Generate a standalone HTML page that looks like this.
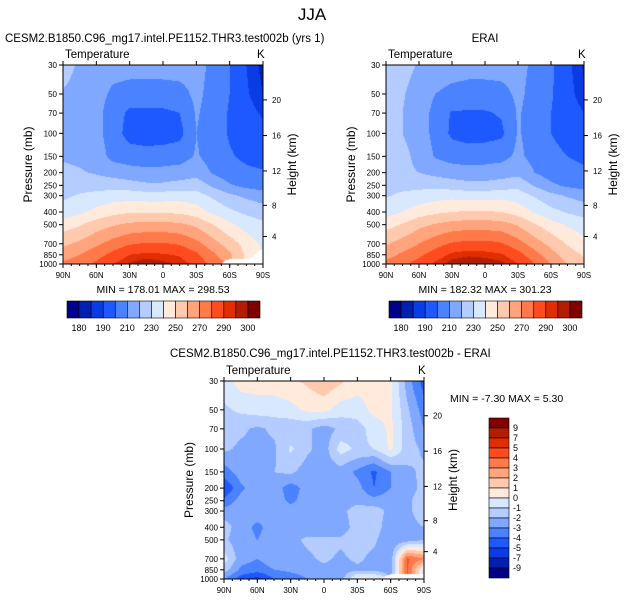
<!DOCTYPE html>
<html><head><meta charset="utf-8">
<style>
body{margin:0;background:#fff;width:625px;height:602px;overflow:hidden;position:relative;font-family:"Liberation Sans",Arial,sans-serif;}
canvas{position:absolute;}
svg{position:absolute;left:0;top:0;}
</style></head>
<body>
<canvas id="c1"></canvas>
<canvas id="c2"></canvas>
<canvas id="c3"></canvas>
<svg id="ov" width="625" height="602"></svg>
<script>
const levels=[30,50,70,100,150,200,250,300,400,500,700,850,1000];
const lats=[90,75,60,45,30,15,0,-15,-30,-45,-60,-75,-90];
const N=NaN;
const modelT=[
[225,218,215,214,214,214,214,214,213,208,200,190,183],
[219,216,214,208,206,206,206,207,212,207,200,191,185],
[218,216,213,205,198,198,198,200,211,206,199,193,189],
[218,217,213,205,196,195,195,197,210,205,199,195,192],
[219,218,215,207,205,204,205,206,211,206,201,198,196],
[222,221,219,216,214,213,213,214,216,209,204,202,201],
[225,226,226,226,224,222,222,224,226,218,211,207,205],
[228,231,233,235,236,235,235,236,234,228,222,218,215],
[234,238,243,247,249,249,249,248,245,238,232,228,225],
[245,249,255,259,262,263,263,262,258,250,242,236,232],
[258,262,268,274,279,281,281,279,273,264,255,246,238],
[265,270,276,283,290,292,291,289,282,272,262,248,N],
[272,276,282,290,296,299,297,294,287,276,N,N,N]];
const eraiT=[
[229,224,219,216,215,214,214,214,213,208,202,192,184],
[223,221,215,210,207,206,206,207,212,207,201,193,186],
[221,220,215,207,199,199,199,201,211,206,200,195,190],
[222,220,215,207,198,196,196,198,211,206,200,196,193],
[226,223,217,209,206,205,206,207,212,207,203,200,198],
[223,222,220,217,215,214,214,215,217,210,205,203,202],
[226,227,227,227,225,223,223,225,227,219,212,208,206],
[229,232,234,236,237,236,236,237,235,229,223,219,216],
[236,240,245,248,250,251,251,250,246,239,233,229,226],
[246,251,257,261,264,265,265,264,259,251,244,239,235],
[259,264,270,276,281,283,283,281,274,265,257,249,243],
[266,272,278,285,292,294,293,291,284,274,264,255,249],
[273,278,284,292,298,300,299,297,290,280,270,260,252]];
const diffT=[
[-0.5,0.5,0.5,0.5,0.8,1.2,1.8,1.2,0.5,0.5,0.3,-2.5,-4.5],
[-1.2,-0.8,-0.5,-0.5,-0.3,0.2,0.3,-0.5,-0.5,0.3,0.2,-1.8,-3.5],
[-1.5,-1.8,-2.2,-1.8,-1.8,-1.8,-2.5,-1.8,-1.5,-0.5,0.2,-1.5,-3],
[-1.8,-2.2,-2.2,-2.2,-0.8,-1.8,-2.5,-0.5,-1.2,-1,0.2,-1.5,-2.2],
[-3.5,-2.5,-2.5,-2.0,-1.8,-2.5,-2.6,-2.5,-3.2,-4.2,-3.0,-2.2,-1.8],
[-5,-3.2,-2.5,-2.5,-3.5,-2.6,-2.6,-2.6,-2.6,-4.0,-3.0,-2.3,-1.8],
[-3.8,-2.6,-2.3,-2.5,-3.2,-2.6,-2.6,-2.6,-2.3,-2.6,-2.3,-2.2,-1.5],
[-2.6,-2.3,-2.6,-2.6,-2.6,-2.6,-2.6,-2.3,-1.5,-1.5,-2.3,-2.2,-1.5],
[-1.5,-2.6,-3.2,-2.6,-2.5,-2.6,-2.6,-2.6,-1.5,-1.5,-2.6,-2.3,-2],
[-1.8,-2.6,-3.0,-2.6,-2.3,-1.8,-1.8,-1.8,-1.5,-1.8,-2.8,-2.6,-2],
[-0.5,-2.6,-3,-2.5,-2.6,-2.2,-1.8,-2.2,-1.8,-2.3,-2.6,4.2,3],
[-1.5,-3.2,-3.5,-3,-2.8,-2.6,-2.3,-2.6,-2.2,-2.3,-2.6,4.2,-0.5],
[-3,-4.5,-5.5,-4,-3.5,-3,-2.6,-2.6,0.5,0.5,N,N,N]];
const tempBounds=[180,185,190,200,210,220,230,240,250,260,270,280,290,295,300];
const tempLabels=["180","190","210","230","250","270","290","300"];
const diffBounds=[-9,-7,-5,-4,-3,-2,-1,0,1,2,3,4,5,7,9];
const diffLabels=["9","7","5","4","3","2","1","0","-1","-2","-3","-4","-5","-7","-9"];
const pTicks=[30,50,70,100,150,200,250,300,400,500,700,850,1000];
const zTicks=[4,8,12,16,20];
const zPress=[616,356,194,104,55.5];
const latTicks=["90N","60N","30N","0","30S","60S","90S"];
const colors=["#00008a","#0020b0","#0a3ce6","#1e58ff","#4a82ff","#80a8ff","#b4ccff","#d8e8ff","#ffeadc","#ffc9ae","#ffa47c","#ff7a4a","#ff4c1e","#e02e00","#b41e00","#800000"];
const NS="http://www.w3.org/2000/svg";
const ov=document.getElementById('ov');
function el(tag,a,txt){const e=document.createElementNS(NS,tag);for(const k in a)e.setAttribute(k,a[k]);if(txt!==undefined)e.textContent=txt;ov.appendChild(e);return e;}
function colorIdx(v,b){let i=0;while(i<b.length&&v>=b[i])i++;return i;}
function hex(c){return [parseInt(c.substr(1,2),16),parseInt(c.substr(3,2),16),parseInt(c.substr(5,2),16)];}
const rgb=colors.map(hex);
function interp(data,fx,p){
  const lp=Math.log(p);let j=0;
  while(j<levels.length-2&&p>levels[j+1])j++;
  const ty=(lp-Math.log(levels[j]))/(Math.log(levels[j+1])-Math.log(levels[j]));
  let i=Math.min(Math.floor(fx),lats.length-2);const tx=fx-i;
  const a=data[j][i],b=data[j][i+1],c=data[j+1][i],d=data[j+1][i+1];
  const w=[(1-tx)*(1-ty),tx*(1-ty),(1-tx)*ty,tx*ty];const v=[a,b,c,d];
  let s=0,ws=0;for(let k=0;k<4;k++){if(!isNaN(v[k])){s+=w[k]*v[k];ws+=w[k];}}
  if(ws<0.5)return NaN;return s/ws;
}
function panel(cid,name,x0,y0,W,H,data,bounds){
  const yOf=p=>y0+H*Math.log(p/30)/Math.log(1000/30);
  const cv=document.getElementById(cid);cv.width=W;cv.height=H;cv.style.left=x0+'px';cv.style.top=y0+'px';
  const ctx=cv.getContext('2d');const img=ctx.createImageData(W,H);
  for(let py=0;py<H;py++){const p=30*Math.exp((py+0.5)/H*Math.log(1000/30));
    for(let px=0;px<W;px++){const fx=(px+0.5)/W*(lats.length-1);const v=interp(data,fx,p);
      const o=(py*W+px)*4;let c=[255,255,255];if(!isNaN(v))c=rgb[colorIdx(v,bounds)];
      img.data[o]=c[0];img.data[o+1]=c[1];img.data[o+2]=c[2];img.data[o+3]=255;}}
  ctx.putImageData(img,0,0);
  const fr=el('rect',{x:x0,y:y0,width:W,height:H,fill:'none',stroke:'#000','stroke-width':1});
  
  
  pTicks.forEach(p=>{const y=yOf(p);el('line',{x1:x0-4,x2:x0,y1:y,y2:y,stroke:'#000'});
    const t=el('text',{x:x0-6,y:y+3,'font-size':8,'text-anchor':'end'},p);
    
    });
  zTicks.forEach((z,k)=>{const y=yOf(zPress[k]);el('line',{x1:x0+W,x2:x0+W+4,y1:y,y2:y,stroke:'#000'});
    const t=el('text',{x:x0+W+9,y:y+3,'font-size':8},z);
    
    });
  latTicks.forEach((l,k)=>{const x=x0+W*k/6;el('line',{x1:x,x2:x,y1:y0+H,y2:y0+H+4,stroke:'#000'});el('line',{x1:x,x2:x,y1:y0,y2:y0-4,stroke:'#000'});
    const t=el('text',{x:x,y:y0+H+14,'font-size':8,'text-anchor':'middle'},l);
    
    });
  for(let k=0;k<=24;k++){const x=x0+W*k/24;el('line',{x1:x,x2:x,y1:y0+H,y2:y0+H+2,stroke:'#000'});}
  const a=el('text',{x:x0-31,y:y0+H/2,'font-size':12,'text-anchor':'middle',transform:`rotate(-90 ${x0-31} ${y0+H/2})`},'Pressure (mb)');
  
  
  const b=el('text',{x:x0+W+33,y:y0+H/2,'font-size':12,'text-anchor':'middle',transform:`rotate(-90 ${x0+W+33} ${y0+H/2})`},'Height (km)');
  
  
  const tt=el('text',{x:x0+2,y:y0-7,'font-size':11.5},'Temperature');
  
  
  const kk=el('text',{x:x0+W-6,y:y0-7,'font-size':11.5},'K');
  
  
}
function hbar(x0,y0,W,H,labels){
  const n=colors.length,w=W/n;
  colors.forEach((c,i)=>{const r=el('rect',{x:x0+i*w,y:y0,width:w,height:H,fill:c,stroke:'#000','stroke-width':0.6});
    
    });
  labels.forEach((l,k)=>{const t=el('text',{x:x0+(2*k+1)*w,y:y0+H+13,'font-size':9,'text-anchor':'middle'},l);
    
    });
}
function vbar(x0,y0,W,H,labels){
  const n=colors.length,h=H/n;
  colors.slice().reverse().forEach((c,i)=>{const r=el('rect',{x:x0,y:y0+i*h,width:W,height:h,fill:c,stroke:'#000','stroke-width':0.6});
    
    });
  labels.forEach((l,k)=>{const t=el('text',{x:x0+W+4,y:y0+(k+1)*h+3,'font-size':9},l);
    
    });
}
panel('c1','model',63,65,200,199,modelT,tempBounds);
panel('c2','erai',386,65,198,199,eraiT,tempBounds);
panel('c3','diff',224,381,200,198,diffT,diffBounds);
hbar(67,301,193,17,tempLabels);
hbar(389,301,193,17,tempLabels);
vbar(489,418,20,160,diffLabels);
function txt(name,x,y,s,t,anchor){const e=el('text',{x:x,y:y,'font-size':s,'text-anchor':anchor||'start'},t);
  
  }
txt('main-title',312,20,17,'JJA','middle');
txt('model-title',5,42,11.5,'CESM2.B1850.C96_mg17.intel.PE1152.THR3.test002b (yrs 1)');
txt('erai-title',485,42,11.5,'ERAI','middle');
txt('diff-title',170,357,11.5,'CESM2.B1850.C96_mg17.intel.PE1152.THR3.test002b - ERAI');
txt('model-minmax',163,293,10.5,'MIN = 178.01  MAX = 298.53','middle');
txt('erai-minmax',485,293,10.5,'MIN = 182.32  MAX = 301.23','middle');
txt('diff-minmax',450,402,10.5,'MIN =  -7.30  MAX =   5.30');
</script>
</body></html>
